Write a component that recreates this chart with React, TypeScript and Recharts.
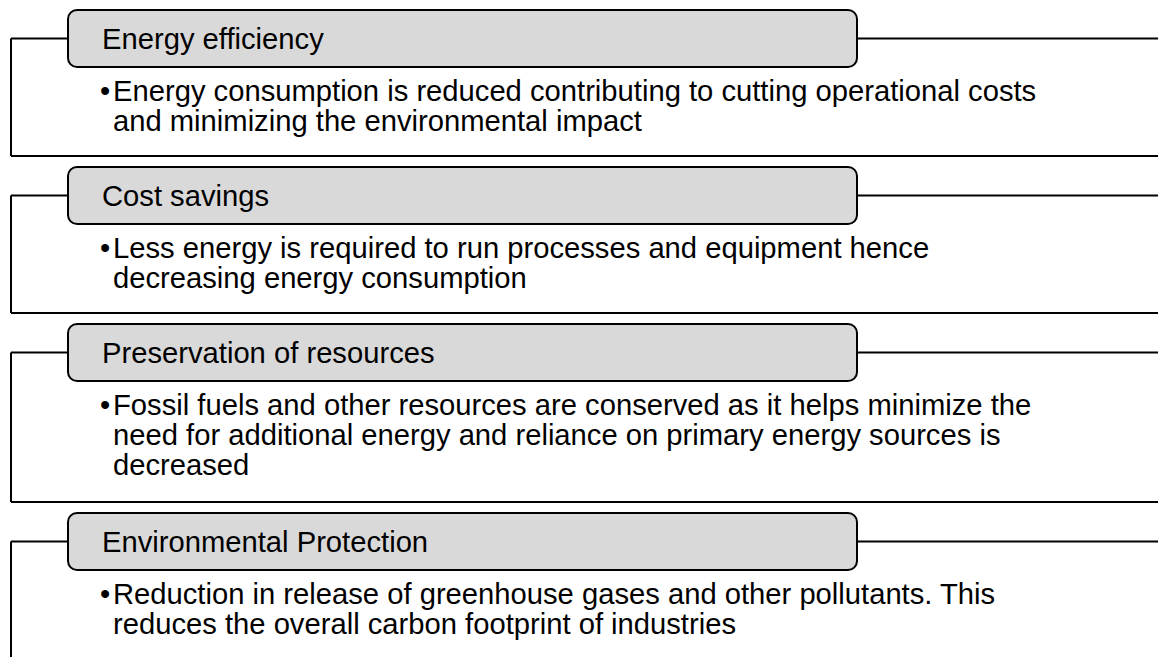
import React from "react";
import {
  ComposedChart,
  XAxis,
  YAxis,
  Scatter,
  ReferenceLine,
  ReferenceArea,
} from "recharts";

// ---- content ----
const titles: string[] = [
  "Energy efficiency",
  "Cost savings",
  "Preservation of resources",
  "Environmental Protection",
];

const descriptions: string[][] = [
  [
    "Energy consumption is reduced contributing to cutting operational costs",
    "and minimizing the environmental impact",
  ],
  [
    "Less energy is required to run processes and equipment hence",
    "decreasing energy consumption",
  ],
  [
    "Fossil fuels and other resources are conserved as it helps minimize the",
    "need for additional energy and reliance on primary energy sources is",
    "decreased",
  ],
  [
    "Reduction in release of greenhouse gases and other pollutants. This",
    "reduces the overall carbon footprint of industries",
  ],
];

// ---- layout (pixel space of the chart) ----
const W = 1158;
const H = 657;
const LEFT_X = 11;
const HEAD_X1 = 68;
const HEAD_X2 = 857;
const HEAD_H = 57;
const GAP = 11;
const PAD = 25;
const BOX_LINE_H = 32;
const TEXT_LINE_H = 30;
const FIRST_OFFSET = 34;
const TOP0 = 10;
const FONT = "'Liberation Sans', Arial, Helvetica, sans-serif";
const FONT_SIZE = 29.2;

type Panel = { top: number; mid: number; headBottom: number; bottom: number };

const panels: Panel[] = (() => {
  let top = TOP0;
  return titles.map((_, i) => {
    const headBottom = top + HEAD_H;
    const bottom = headBottom + PAD + descriptions[i].length * BOX_LINE_H;
    const p = { top, mid: top + HEAD_H / 2, headBottom, bottom };
    top = bottom + GAP;
    return p;
  });
})();

type TextItem = { x: number; y: number; text: string };

const textItems: TextItem[] = [];
titles.forEach((t, i) => {
  const p = panels[i];
  textItems.push({ x: 102, y: p.mid + 10, text: t });
  const first = p.headBottom + FIRST_OFFSET;
  textItems.push({ x: 100, y: first, text: "\u2022" });
  descriptions[i].forEach((line, j) => {
    textItems.push({ x: 113, y: first + j * TEXT_LINE_H, text: line });
  });
});

const TextShape = (props: any) => {
  const { cx, cy, payload } = props;
  return (
    <text
      x={cx}
      y={cy}
      fontFamily={FONT}
      fontSize={FONT_SIZE}
      fill="#000"
      textAnchor="start"
    >
      {payload.text}
    </text>
  );
};

const HeaderShape = (props: any) => {
  const { x, y, width, height } = props;
  return (
    <rect
      x={x}
      y={y}
      width={width}
      height={height}
      rx={9}
      ry={9}
      fill="#d9d9d9"
      stroke="#000"
      strokeWidth={2}
    />
  );
};

export default function App() {
  return (
    <div style={{ position: "absolute", left: 0, top: 0, background: "#fff" }}>
      <ComposedChart
        width={W}
        height={H}
        data={textItems}
        margin={{ top: 0, right: 0, bottom: 0, left: 0 }}
      >
        <XAxis
          hide
          type="number"
          dataKey="x"
          domain={[0, W]}
          allowDataOverflow
        />
        <YAxis
          hide
          type="number"
          dataKey="y"
          domain={[0, H]}
          reversed
          allowDataOverflow
        />
        {panels.map((p, i) => (
          <ReferenceLine
            key={`l${i}`}
            segment={[
              { x: LEFT_X, y: p.mid },
              { x: HEAD_X1, y: p.mid },
            ]}
            stroke="#000"
            strokeWidth={2}
            ifOverflow="visible"
          />
        ))}
        {panels.map((p, i) => (
          <ReferenceLine
            key={`r${i}`}
            segment={[
              { x: HEAD_X2, y: p.mid },
              { x: W, y: p.mid },
            ]}
            stroke="#000"
            strokeWidth={2}
            ifOverflow="visible"
          />
        ))}
        {panels.map((p, i) => (
          <ReferenceLine
            key={`v${i}`}
            segment={[
              { x: LEFT_X, y: p.mid },
              { x: LEFT_X, y: p.bottom },
            ]}
            stroke="#000"
            strokeWidth={2}
            ifOverflow="visible"
          />
        ))}
        {panels.map((p, i) => (
          <ReferenceLine
            key={`b${i}`}
            segment={[
              { x: LEFT_X, y: p.bottom },
              { x: W, y: p.bottom },
            ]}
            stroke="#000"
            strokeWidth={2}
            ifOverflow="visible"
          />
        ))}
        {panels.map((p, i) => (
          <ReferenceArea
            key={`h${i}`}
            x1={HEAD_X1}
            x2={HEAD_X2}
            y1={p.top}
            y2={p.headBottom}
            ifOverflow="visible"
            shape={HeaderShape}
          />
        ))}
        <Scatter
          dataKey="y"
          data={textItems}
          shape={TextShape}
          isAnimationActive={false}
        />
      </ComposedChart>
    </div>
  );
}
